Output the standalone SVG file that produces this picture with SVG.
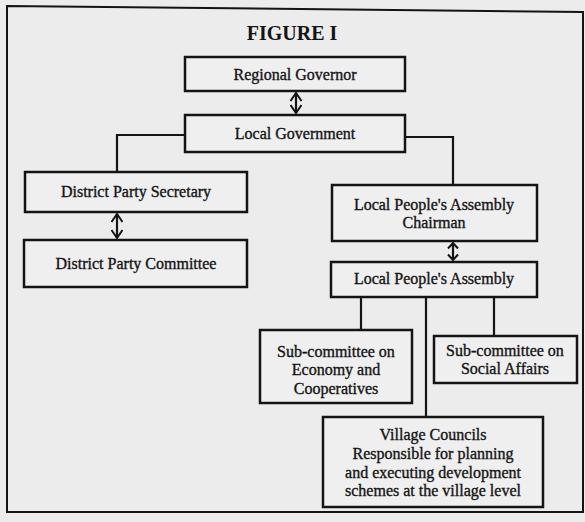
<svg xmlns="http://www.w3.org/2000/svg" width="585" height="522" viewBox="0 0 585 522">
<style>
.bg{fill:#ececec}
.box{fill:#efefef;stroke:#141414;stroke-width:2.5}
.t{font-family:"Liberation Serif",serif;font-size:16px;fill:#141414;stroke:#141414;stroke-width:0.35;text-anchor:middle}
.title{font-family:"Liberation Serif",serif;font-size:20px;font-weight:bold;fill:#141414;text-anchor:middle}
.c{fill:none;stroke:#141414;stroke-width:2.2}
.dbl{fill:none;stroke:#141414;stroke-width:2.2;marker-start:url(#ah);marker-end:url(#ah)}
.dbls{fill:none;stroke:#141414;stroke-width:2.2;marker-start:url(#ahs);marker-end:url(#ahs)}
</style>
<defs>
<marker id="ah" viewBox="0 0 12 12" refX="11" refY="6" markerWidth="12" markerHeight="12" markerUnits="userSpaceOnUse" orient="auto-start-reverse">
<path d="M3,0.5 L11,6 L3,11.5" fill="none" stroke="#141414" stroke-width="2"/>
</marker>
<marker id="ahs" viewBox="0 0 12 12" refX="11" refY="6" markerWidth="12" markerHeight="12" markerUnits="userSpaceOnUse" orient="auto-start-reverse">
<path d="M5.5,1 L11,6 L5.5,11" fill="none" stroke="#141414" stroke-width="2"/>
</marker>
</defs>
<rect class="bg" x="0" y="0" width="585" height="522"/>
<path d="M7,6 L583,12 L583,512 L7,512 Z" fill="none" stroke="#141414" stroke-width="2"/>
<text class="title" x="292" y="40">FIGURE I</text>

<g id="connectors">
<line class="dbl" x1="296" y1="93" x2="296" y2="113"/>
<line class="dbl" x1="117" y1="214" x2="117" y2="238"/>
<line class="dbls" x1="453" y1="243" x2="453" y2="260"/>
<polyline class="c" points="185,135 117,135 117,172"/>
<polyline class="c" points="405,137 453,137 453,185"/>
<line class="c" x1="361" y1="297" x2="361" y2="330"/>
<line class="c" x1="426" y1="297" x2="426" y2="417"/>
<line class="c" x1="494" y1="297" x2="494" y2="336"/>
</g>

<g id="regional-governor">
<rect class="box" x="185" y="57" width="220" height="34"/>
<text class="t" x="295" y="80">Regional Governor</text>
</g>
<g id="local-government">
<rect class="box" x="185" y="115" width="220" height="37"/>
<text class="t" x="295" y="139">Local Government</text>
</g>
<g id="district-party-secretary">
<rect class="box" x="25" y="172" width="222" height="40"/>
<text class="t" x="136" y="197">District Party Secretary</text>
</g>
<g id="district-party-committee">
<rect class="box" x="24" y="240" width="223" height="47"/>
<text class="t" x="136" y="269">District Party Committee</text>
</g>
<g id="lpa-chairman">
<rect class="box" x="332" y="185" width="205" height="56"/>
<text class="t" x="434" y="210">Local People's Assembly</text>
<text class="t" x="434" y="228">Chairman</text>
</g>
<g id="lpa">
<rect class="box" x="331" y="262" width="206" height="35"/>
<text class="t" x="434" y="284">Local People's Assembly</text>
</g>
<g id="sub-economy">
<rect class="box" x="260" y="330" width="152" height="73"/>
<text class="t" x="336" y="357">Sub-committee on</text>
<text class="t" x="336" y="375">Economy and</text>
<text class="t" x="336" y="394">Cooperatives</text>
</g>
<g id="sub-social">
<rect class="box" x="434" y="336" width="143" height="47"/>
<text class="t" x="505" y="356">Sub-committee on</text>
<text class="t" x="505" y="374">Social Affairs</text>
</g>
<g id="village-councils">
<rect class="box" x="323" y="417" width="220" height="90"/>
<text class="t" x="433" y="440">Village Councils</text>
<text class="t" x="433" y="459">Responsible for planning</text>
<text class="t" x="433" y="478">and executing development</text>
<text class="t" x="433" y="496">schemes at the village level</text>
</g>
</svg>
